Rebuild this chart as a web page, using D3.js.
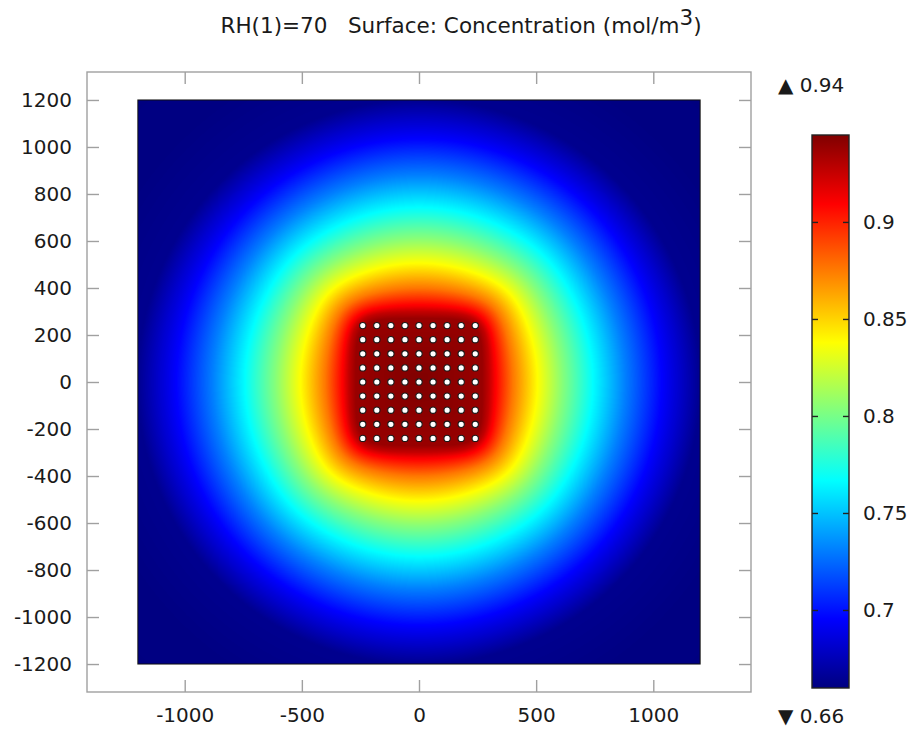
<!DOCTYPE html>
<html>
<head>
<meta charset="utf-8">
<script src="https://cdn.jsdelivr.net/npm/d3@7"></script>
<style>
	body { margin: 0; background: #fff; }
	svg { display: block; font-family: 'DejaVu Sans', sans-serif; }
</style>
</head>
<body>
<div id="chart"></div>
<script>
'use strict';

// plot labels
const titleText = 'RH(1)=70   Surface: Concentration (mol/m';
const titleSup = '3';
const xTicks = [-1000, -500, 0, 500, 1000];
const yTicks = [-1200, -1000, -800, -600, -400, -200, 0, 200, 400, 600, 800, 1000, 1200];
const colorTicks = [0.7, 0.75, 0.8, 0.85, 0.9];
const colorRange = [0.6598, 0.9448];
const colorRangeLabels = ['0.66', '0.94'];

// geometry of the model (m)
const domainExtent = [-1200, 1200];
const sourceHalf = 270;
const dotOffsets = [-240, -180, -120, -60, 0, 60, 120, 180, 240];
const dotRadius = 13.5;

// concentration along the x axis, read as distance from centre -> mol/m3
const profileDistance = [0, 270, 300, 322, 400, 506, 620, 741, 880, 1033, 1200, 1450, 1800];
const profileValue = [0.945, 0.938, 0.926, 0.912, 0.876, 0.838, 0.802, 0.767, 0.731, 0.696, 0.664, 0.6605, 0.6598];

// jet colour map stops
const jetOffsets = [0, 0.125, 0.375, 0.625, 0.875, 1];
const jetColors = ['#000080', '#0000ff', '#00ffff', '#ffff00', '#ff0000', '#800000'];

const width = 915;
const height = 729;
const frame = { left: 87, right: 751, top: 72, bottom: 692 };
const bar = { left: 812, right: 849, top: 135, bottom: 688 };

const x = d3.scaleLinear().domain([-1417, 1417]).range([frame.left, frame.right]);
const y = d3.scaleLinear().domain([-1319, 1319]).range([frame.bottom, frame.top]);
const c = d3.scaleLinear().domain(colorRange).range([bar.bottom, bar.top]);

const svg = d3
	.select('#chart')
	.append('svg')
	.attr('width', width)
	.attr('height', height);

// antiderivative of ln(r) over a rectangle corner
function cornerTerm(u, v) {
	const r2 = u * u + v * v;
	let g = -3 * u * v;
	if (r2 > 0) g += u * v * Math.log(r2);
	if (u !== 0) g += u * u * Math.atan(v / u);
	if (v !== 0) g += v * v * Math.atan(u / v);
	return g / 2;
}

// mean log distance from a point to the square source
function potential(px, py) {
	const a1 = -sourceHalf - px, a2 = sourceHalf - px;
	const b1 = -sourceHalf - py, b2 = sourceHalf - py;
	return (
		cornerTerm(a2, b2) - cornerTerm(a1, b2) - cornerTerm(a2, b1) + cornerTerm(a1, b1)
	) / (4 * sourceHalf * sourceHalf);
}

// lookup: potential along the axis -> axis distance
const axisDist = d3.range(0, 1801, 2);
const axisPot = axisDist.map((d) => potential(d, 0));
for (let k = 1; k < axisPot.length; k++) {
	axisPot[k] = Math.max(axisPot[k], axisPot[k - 1] + 1e-12);
}

function potentialDistance(px, py) {
	const p = potential(px, py);
	const i = d3.bisectLeft(axisPot, p);
	if (i <= 0) return 0;
	if (i >= axisPot.length) return axisDist[axisDist.length - 1];
	const f = (p - axisPot[i - 1]) / (axisPot[i] - axisPot[i - 1]);
	return axisDist[i - 1] + f * (axisDist[i] - axisDist[i - 1]);
}

// near the source the contours follow a rounded square, further out the potential
function equivalentDistance(px, py) {
	const ax = Math.abs(px), ay = Math.abs(py);
	const dSquare = Math.pow(Math.pow(ax, 5) + Math.pow(ay, 5), 1 / 5);
	const w = Math.exp(-Math.max(0, dSquare - sourceHalf) / 140);
	return w * dSquare + (1 - w) * potentialDistance(px, py);
}

const profile = d3.scaleLinear().domain(profileDistance).range(profileValue).clamp(true);
const jet = d3.scaleLinear().domain(jetOffsets).range(jetColors).interpolate(d3.interpolateRgb);
const norm = d3.scaleLinear().domain(colorRange).range([0, 1]).clamp(true);

// 512 entry colour table
const lut = d3.range(512).map((i) => d3.rgb(jet(i / 511)));

// raster of the surface
const px0 = Math.round(x(domainExtent[0]));
const px1 = Math.round(x(domainExtent[1]));
const py0 = Math.round(y(domainExtent[1]));
const py1 = Math.round(y(domainExtent[0]));
const imgW = px1 - px0;
const imgH = py1 - py0;

const canvas = document.createElement('canvas');
canvas.width = imgW;
canvas.height = imgH;
const ctx = canvas.getContext('2d');
const img = ctx.createImageData(imgW, imgH);

for (let j = 0; j < imgH; j++) {
	const uy = y.invert(py0 + j + 0.5);
	for (let i = 0; i < imgW; i++) {
		const ux = x.invert(px0 + i + 0.5);
		const v = profile(equivalentDistance(ux, uy));
		const col = lut[Math.round(norm(v) * 511)];
		const k = (j * imgW + i) * 4;
		img.data[k] = col.r;
		img.data[k + 1] = col.g;
		img.data[k + 2] = col.b;
		img.data[k + 3] = 255;
	}
}
ctx.putImageData(img, 0, 0);

svg
	.append('image')
	.attr('x', px0)
	.attr('y', py0)
	.attr('width', imgW)
	.attr('height', imgH)
	.attr('preserveAspectRatio', 'none')
	.attr('href', canvas.toDataURL());

// domain outline
svg
	.append('rect')
	.attr('x', x(domainExtent[0]))
	.attr('y', y(domainExtent[1]))
	.attr('width', x(domainExtent[1]) - x(domainExtent[0]))
	.attr('height', y(domainExtent[0]) - y(domainExtent[1]))
	.attr('fill', 'none')
	.attr('stroke', '#111')
	.attr('stroke-width', 1);

// array of point sources
const dots = [];
dotOffsets.forEach((oy) => dotOffsets.forEach((ox) => dots.push([ox, oy])));

svg
	.append('g')
	.selectAll('circle')
	.data(dots)
	.enter()
	.append('circle')
	.attr('cx', (d) => x(d[0]))
	.attr('cy', (d) => y(d[1]))
	.attr('r', x(dotRadius) - x(0))
	.attr('fill', '#fff')
	.attr('stroke', '#1a1a1a')
	.attr('stroke-width', 1.1);

// axes frame with inward ticks on all sides
function styleAxis(g, stroke) {
	g.select('.domain').remove();
	g.selectAll('.tick line').attr('stroke', stroke).attr('stroke-width', 1.4);
	g.selectAll('.tick text')
		.attr('fill', '#1a1a1a')
		.style('font-size', '20px')
		.style('font-family', "'DejaVu Sans', sans-serif");
}

svg
	.append('rect')
	.attr('x', frame.left)
	.attr('y', frame.top)
	.attr('width', frame.right - frame.left)
	.attr('height', frame.bottom - frame.top)
	.attr('fill', 'none')
	.attr('stroke', '#a0a0a0')
	.attr('stroke-width', 1.4);

svg
	.append('g')
	.attr('transform', `translate(${frame.left},0)`)
	.call(d3.axisLeft(y).tickValues(yTicks).tickSize(-12).tickPadding(15).tickFormat(d3.format('d')))
	.call((g) => styleAxis(g, '#a0a0a0'));

svg
	.append('g')
	.attr('transform', `translate(${frame.right},0)`)
	.call(d3.axisRight(y).tickValues(yTicks).tickSize(-12).tickFormat(''))
	.call((g) => styleAxis(g, '#a0a0a0'));

svg
	.append('g')
	.attr('transform', `translate(0,${frame.bottom})`)
	.call(d3.axisBottom(x).tickValues(xTicks).tickSize(-12).tickPadding(16).tickFormat(d3.format('d')))
	.call((g) => styleAxis(g, '#a0a0a0'));

svg
	.append('g')
	.attr('transform', `translate(0,${frame.top})`)
	.call(d3.axisTop(x).tickValues(xTicks).tickSize(-12).tickFormat(''))
	.call((g) => styleAxis(g, '#a0a0a0'));

// plain hyphen for negative labels
svg.selectAll('.tick text').text(function () {
	return d3.select(this).text().replace('\u2212', '-');
});

// title
const title = svg
	.append('text')
	.attr('x', 461)
	.attr('y', 32.5)
	.attr('text-anchor', 'middle')
	.attr('fill', '#1a1a1a')
	.style('font-size', '21.5px')
	.style('white-space', 'pre');
title.append('tspan').text(titleText);
title.append('tspan').attr('dy', -8).text(titleSup);
title.append('tspan').attr('dy', 8).text(')');

// colour legend
const defs = svg.append('defs');
const grad = defs
	.append('linearGradient')
	.attr('id', 'jet-gradient')
	.attr('x1', 0)
	.attr('y1', 1)
	.attr('x2', 0)
	.attr('y2', 0);

grad
	.selectAll('stop')
	.data(jetOffsets)
	.enter()
	.append('stop')
	.attr('offset', (d) => d)
	.attr('stop-color', (d, i) => jetColors[i]);

svg
	.append('rect')
	.attr('x', bar.left)
	.attr('y', bar.top)
	.attr('width', bar.right - bar.left)
	.attr('height', bar.bottom - bar.top)
	.attr('fill', 'url(#jet-gradient)')
	.attr('stroke', '#222')
	.attr('stroke-width', 1.4);

svg
	.append('g')
	.attr('transform', `translate(${bar.left},0)`)
	.call(d3.axisLeft(c).tickValues(colorTicks).tickSize(-6).tickFormat(''))
	.call((g) => styleAxis(g, '#222'));

svg
	.append('g')
	.attr('transform', `translate(${bar.right},0)`)
	.call(d3.axisRight(c).tickValues(colorTicks).tickSize(-6).tickPadding(14).tickFormat((d) => String(d)))
	.call((g) => styleAxis(g, '#222'));

// max and min markers
svg
	.append('text')
	.attr('x', 778)
	.attr('y', 92)
	.attr('fill', '#1a1a1a')
	.style('font-size', '20px')
	.style('white-space', 'pre')
	.text('\u25b2 ' + colorRangeLabels[1]);

svg
	.append('text')
	.attr('x', 778)
	.attr('y', 723)
	.attr('fill', '#1a1a1a')
	.style('font-size', '20px')
	.style('white-space', 'pre')
	.text('\u25bc ' + colorRangeLabels[0]);
</script>
</body>
</html>
